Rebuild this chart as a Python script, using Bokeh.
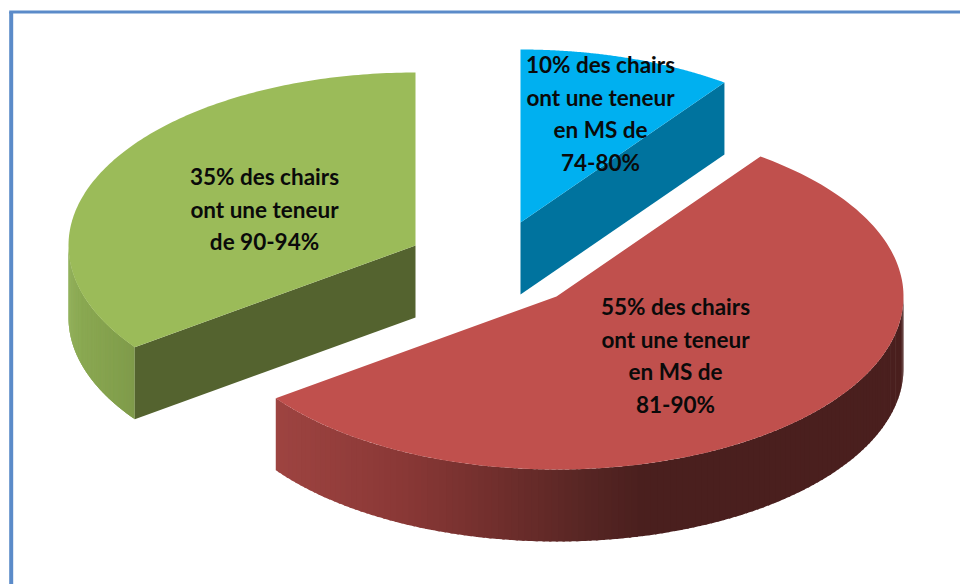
import numpy as np
from bokeh.embed import file_html
from bokeh.models import Range1d
from bokeh.plotting import figure
from bokeh.resources import INLINE
from bokeh.core.properties import value

# --- data
shares = [10, 55, 35]
top_colors = ["#00b0f0", "#c0504d", "#9bbb59"]
cut_colors = ["#00739e", None, "#54632f"]
labels = [
    ["10% des chairs", "ont une teneur", "en MS de", "74-80%"],
    ["55% des chairs", "ont une teneur", "en MS de", "81-90%"],
    ["35% des chairs", "ont une teneur", "de 90-94%"],
]
label_x = [600, 675, 264]
label_y0 = [64, 306, 176]
line_step = 32.6

# --- layout of the exploded slices (reference pixels)
centres = [(520, 222), (556, 296), (415, 245)]
RX, RY, DEPTH = 347, 173, 72

# side wall shading stops: (x position, colour)
wall_stops = [
    [],
    [(273, "#9e4441"), (400, "#8a3836"), (500, "#6f2e2c"), (580, "#582624"), (640, "#4a1f1e"), (905, "#4a1f1e")],
    [(68, "#8dac54"), (133, "#7f9b4a")],
]


def hex2rgb(h):
    return np.array([int(h[i:i + 2], 16) for i in (1, 3, 5)], float)


def shade(x, stops):
    xs = [s[0] for s in stops]
    cs = np.array([hex2rgb(s[1]) for s in stops])
    return "#%02x%02x%02x" % tuple(int(round(np.interp(x, xs, cs[:, k]))) for k in range(3))


def rim(c, a0, a1, n=160):
    t = np.radians(np.linspace(a0, a1, n))
    return c[0] + RX * np.sin(t), c[1] - RY * np.cos(t)


W, H = 960, 584
p = figure(width=W, height=H, x_range=Range1d(0, W), y_range=Range1d(H, 0),
           output_backend="svg", toolbar_location=None, min_border=0,
           background_fill_color="white", border_fill_color="white")
p.axis.visible = False
p.grid.visible = False
p.outline_line_color = None

# frame
p.segment(x0=[10.7, 8.7], y0=[11.4, 11.4], x1=[10.7, W], y1=[H, 11.4],
          line_color="#5b8bc9", line_width=[4, 3])

# slices
angle = 0.0
for i, sh in enumerate(shares):
    a0, a1 = angle, angle + sh * 3.6
    angle = a1
    c = centres[i]
    xr, yr = rim(c, a0, a1)

    # outer wall, only where the rim faces the viewer
    if wall_stops[i]:
        lo, hi = max(a0, 90), min(a1, 270)
        n = 130
        ts = np.linspace(lo, hi, n + 1)
        xs, ys, cols = [], [], []
        for u, v in zip(ts[:-1], ts[1:]):
            xa, ya = rim(c, u, min(v + 0.4, hi), 4)
            xs.append(list(xa) + list(xa[::-1]))
            ys.append(list(ya) + list((ya + DEPTH)[::-1]))
            cols.append(shade(xa.mean(), wall_stops[i]))
        p.patches(xs, ys, fill_color=cols, line_color=None)

    # cut face
    if cut_colors[i]:
        edge_a = a1 if i == 0 else a0
        ex, ey = rim(c, edge_a, edge_a, 1)
        p.patch([c[0], ex[0], ex[0], c[0]], [c[1], ey[0], ey[0] + DEPTH, c[1] + DEPTH],
                fill_color=cut_colors[i], line_color=None)

    # top surface
    p.patch([c[0]] + list(xr), [c[1]] + list(yr), fill_color=top_colors[i], line_color=None)

# labels
for i, lines in enumerate(labels):
    ys = [label_y0[i] + k * line_step for k in range(len(lines))]
    p.text(x=[label_x[i]] * len(lines), y=ys, text=lines, text_align="center", text_baseline="middle",
           text_font=value("Lato"), text_font_style="bold", text_font_size="22.5px", text_color="#0a0a0a")

open("out.html", "w").write(file_html(p, INLINE))
